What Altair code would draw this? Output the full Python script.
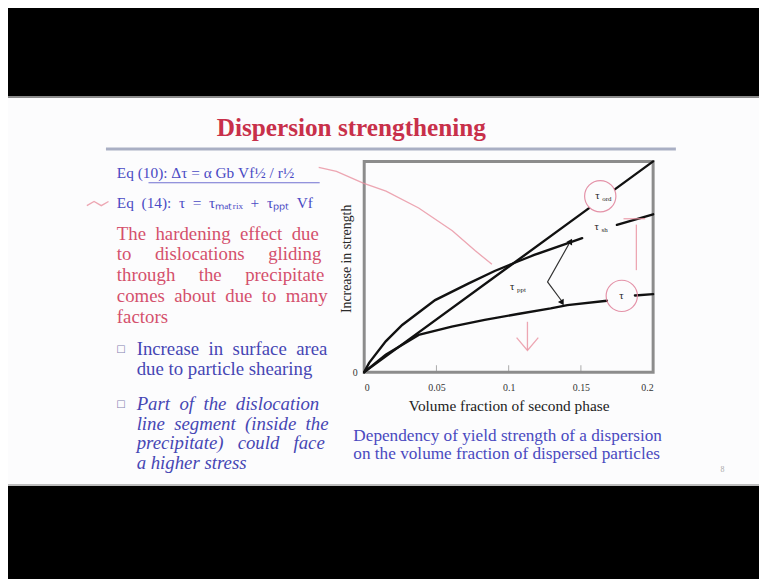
import altair as alt
import pandas as pd

SERIF = "Liberation Serif"
NB = "\u00a0"

# ---------------- text content ----------------
title_text = "Dispersion strengthening"
eq_lines = ["Eq (10): Δτ = α Gb Vf½ / r½", "Eq (14): τ = τₘₐₜᵣᵢₓ + τₚₚₜ Vf"]
para_lines = ["The hardening effect due", "to dislocations gliding", "through the precipitate",
              "comes about due to many", "factors"]
bullet1_lines = ["Increase in surface area", "due to particle shearing"]
bullet2_lines = ["Part of the dislocation", "line segment (inside the", "precipitate) could face", "a higher stress"]
caption_lines = ["Dependency of yield strength of a dispersion", "on the volume fraction of dispersed particles"]
x_title = "Volume fraction of second phase"
y_title = "Increase in strength"
slide_no = "8"

# extra non-breaking spaces per word gap, emulating the slide's justified text
para_extra = [1, 4, 4, 1, 0]
bullet1_extra = [1, 0]
bullet2_extra = [1, 1, 2, 0]
eq_extra = [0, 1]

# ---------------- chart data ----------------
x_ticks = [0, 0.05, 0.1, 0.15, 0.2]

ord_a_x = [0.0, 0.1554]
ord_a_y = [0.0, 0.777]
ord_b_x = [0.1737, 0.2]
ord_b_y = [0.8685, 1.0]

sh_a_x = [0.0, 0.0034, 0.0149, 0.0263, 0.0491, 0.072, 0.0903, 0.1063, 0.1177, 0.1406, 0.1509]
sh_a_y = [0.0, 0.044, 0.146, 0.224, 0.342, 0.42, 0.48, 0.525, 0.556, 0.611, 0.636]
sh_b_x = [0.1749, 0.2]
sh_b_y = [0.699, 0.749]

res_a_x = [0.0, 0.0149, 0.0377, 0.0606, 0.0834, 0.1063, 0.1291, 0.1406, 0.168]
res_a_y = [0.0, 0.083, 0.177, 0.216, 0.248, 0.276, 0.3025, 0.318, 0.339]
res_b_x = [0.1874, 0.2]
res_b_y = [0.364, 0.37]

lead_x = [0.1417, 0.1269, 0.1371]
lead_y = [0.608, 0.428, 0.334]
arrow_x = [0.1429, 0.1371]
arrow_y = [0.621, 0.329]
arrow_angle = [30, 150]

lab_sym = ["τ", "τ", "τ", "τ"]
lab_sub = ["ord", "sh", "ppt", ""]
lab_x = [0.1600, 0.1595, 0.1010, 0.1765]
lab_y = [0.835, 0.69, 0.404, 0.362]

ink_arc_x = [-0.0315, -0.0192, -0.0007, 0.0151, 0.0377, 0.061, 0.0767, 0.0884]
ink_arc_y = [0.972, 0.953, 0.897, 0.859, 0.779, 0.671, 0.577, 0.512]
ink_arrow_x = [0.113, 0.113]
ink_arrow_y = [0.239, 0.106]
ink_head_x = [0.1055, 0.113, 0.1205]
ink_head_y = [0.164, 0.103, 0.164]
ink_brk_x = [0.1795, 0.1945]
ink_brk_y = [0.728, 0.728]
ink_vert_x = [0.1884, 0.1884]
ink_vert_y = [0.70, 0.484]
ink_sq_x = [-0.192, -0.187, -0.182, -0.177]
ink_sq_y = [0.79, 0.81, 0.79, 0.81]
ink_circle_x = [0.1634, 0.1783]
ink_circle_y = [0.835, 0.362]


def justify(lines, extra):
    out = []
    for line, n in zip(lines, extra):
        out.append((" " + NB * n).join(line.split(" ")).replace(" ", NB))
    return "\n".join(out)


def seg_df(pairs):
    rows = []
    for name, xs_, ys_ in pairs:
        for i, (a, b) in enumerate(zip(xs_, ys_)):
            rows.append({"x": a, "y": b, "seg": name, "i": i})
    return pd.DataFrame(rows)


curves = seg_df([("ord-a", ord_a_x, ord_a_y), ("ord-b", ord_b_x, ord_b_y),
                 ("sh-a", sh_a_x, sh_a_y), ("sh-b", sh_b_x, sh_b_y),
                 ("res-a", res_a_x, res_a_y), ("res-b", res_b_x, res_b_y)])
leader = seg_df([("lead", lead_x, lead_y)])
arrows = pd.DataFrame({"x": arrow_x, "y": arrow_y, "a": arrow_angle})
labels = pd.DataFrame({"x": lab_x, "y": lab_y, "s": lab_sym, "sub": lab_sub})
ink = seg_df([("arc", ink_arc_x, ink_arc_y), ("arr", ink_arrow_x, ink_arrow_y),
              ("head", ink_head_x, ink_head_y), ("brk", ink_brk_x, ink_brk_y),
              ("vert", ink_vert_x, ink_vert_y), ("sq", ink_sq_x, ink_sq_y)])
ink_circ = pd.DataFrame({"x": ink_circle_x, "y": ink_circle_y})
ticks_df = pd.DataFrame({"x": x_ticks[1:-1]})

xs = alt.Scale(domain=[0, 0.2], nice=False, zero=False)
ys = alt.Scale(domain=[0, 1], nice=False, zero=False)

x_axis = alt.Axis(values=x_ticks, format="~g", grid=False, domain=False, ticks=False, zindex=2,
                  labelFont=SERIF, labelFontSize=10, labelColor="#333", labelPadding=11,
                  title=x_title, titleFont=SERIF, titleFontSize=15.5, titleFontWeight="normal",
                  titleColor="#222", titlePadding=6)
y_axis = alt.Axis(values=[0], format="~g", grid=False, domain=False, ticks=False, zindex=2,
                  labelFont=SERIF, labelFontSize=10, labelColor="#333", labelPadding=7,
                  title=y_title, titleFont=SERIF, titleFontSize=14, titleFontWeight="normal",
                  titleColor="#2a2a2a", titlePadding=-1, titleY=98)

X = alt.X("x:Q", scale=xs, axis=x_axis)
Y = alt.Y("y:Q", scale=ys, axis=y_axis)


def one(text=""):
    return alt.Chart(pd.DataFrame({"t": [text]}))


def txt(text, x, y, size, color, lh=20, style="normal", align="left", weight="normal", font=SERIF):
    return one(text).mark_text(font=font, fontSize=size, color=color, align=align, baseline="middle",
                               lineBreak="\n", lineHeight=lh, fontStyle=style, fontWeight=weight).encode(
        x=alt.value(x), y=alt.value(y), text="t:N")


def box(x, x2, y, y2, color):
    return one().mark_rect(color=color).encode(
        x=alt.value(x), x2=alt.value(x2), y=alt.value(y), y2=alt.value(y2))


# ---------------- decorations (pixel positions relative to the plot area) -------------
bg = box(-360, 399, -152, 419, "#000")
slide = box(-360, 399, -65, 327, "#fcfcfd")
slide_top = box(-360, 399, -66, -64, "#8c8c8c")
slide_bot = box(-360, 399, 326, 328, "#bdbdbd")
rule_title = box(-261, 315, -14, -11, "#a9afc4")

title = txt(title_text, -13, -34, 25.5, "#c8304a", align="center", weight="bold")
eq = txt(justify(eq_lines, eq_extra), -250, 12, 15.5, "#4a4ac4", lh=30)
eq_ul = box(-218, -45, 21, 22, "#7070d0")
para = txt(justify(para_lines, para_extra), -250, 73, 19, "#d4506c", lh=21)
b1m = txt("□", -246, 190, 10, "#8080b0", font="DejaVu Sans", align="center")
b2m = txt("□", -246, 245, 10, "#8080b0", font="DejaVu Sans", align="center")
b1 = txt(justify(bullet1_lines, bullet1_extra), -230, 190, 19, "#4646b4", lh=20)
b2 = txt(justify(bullet2_lines, bullet2_extra), -230, 245, 19, "#4646b4", lh=20, style="italic")
caption = txt("\n".join(caption_lines), -11, 278, 17.4, "#4a4ac0", lh=18)
num = txt(slide_no, 362, 312, 8, "#aaa", align="center")

frame = one().mark_rect(fillOpacity=0, stroke="#8c8c8c", strokeWidth=3).encode(
    x=alt.value(0), x2=alt.value(292), y=alt.value(0), y2=alt.value(213))

# ---------------- plot layers ----------------
main = alt.Chart(curves).mark_line(color="#111", strokeWidth=2.4, strokeCap="round").encode(
    x=X, y=Y, detail="seg:N", order="i:Q")

lead = alt.Chart(leader).mark_line(color="#333", strokeWidth=1.2).encode(x=X, y=Y, order="i:Q")
arr = alt.Chart(arrows).mark_point(shape="triangle-up", filled=True, color="#111", size=45,
                                   opacity=1).encode(
    x=X, y=Y, angle=alt.Angle("a:Q", scale=None))

tick_rules = alt.Chart(ticks_df).mark_tick(color="#888", thickness=1, size=6,
                                           orient="vertical").encode(x=X, y=alt.value(209))

lab = alt.Chart(labels).mark_text(font=SERIF, fontSize=11, color="#222", align="left",
                                  baseline="middle").encode(x=X, y=Y, text="s:N")
lab_s = alt.Chart(labels).mark_text(font=SERIF, fontSize=7, color="#222", align="left",
                                    baseline="middle", dx=7, dy=3).encode(x=X, y=Y, text="sub:N")

ink_lines = alt.Chart(ink).mark_line(color="#e8909f", strokeWidth=1.3, opacity=0.8).encode(
    x=X, y=Y, detail="seg:N", order="i:Q")
ink_c = alt.Chart(ink_circ).mark_point(shape="circle", filled=False, color="#e0809a", size=1000,
                                       strokeWidth=1.2, opacity=0.85).encode(x=X, y=Y)

chart = alt.layer(
    bg, slide, slide_top, slide_bot, rule_title, title, eq, eq_ul, para, b1m, b2m, b1, b2, caption, num,
    frame, main, lead, arr, tick_rules, lab, lab_s, ink_lines, ink_c
).properties(
    width=292, height=213, padding=0, background="#000"
).configure_view(
    stroke=None, fill="#fcfcfd"
)

chart.save("out.html", embed_options={"renderer": "svg", "actions": False})
